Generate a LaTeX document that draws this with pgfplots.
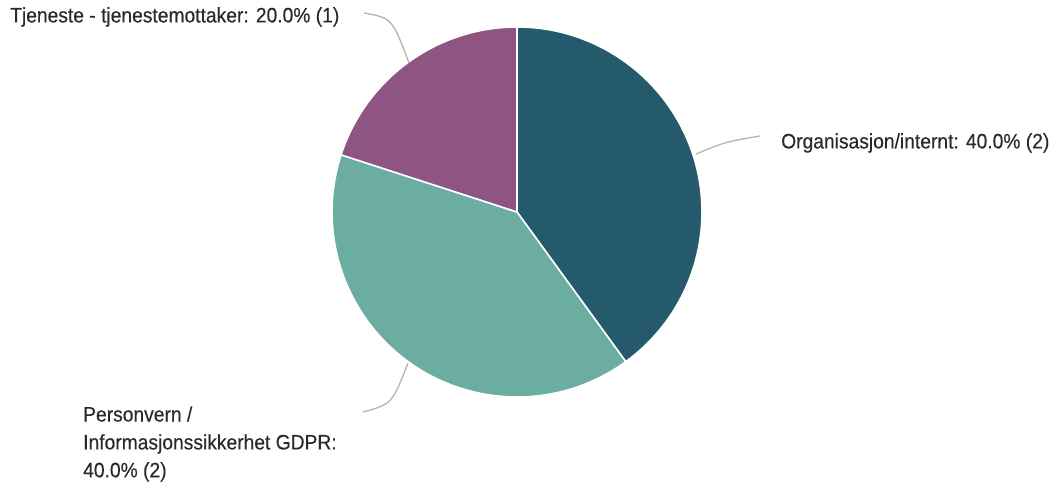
\documentclass[border=0pt]{standalone}
\usepackage{fontspec}
\setmainfont{Liberation Sans}[FakeStretch=0.92,FakeBold=0.4]
\usepackage{pgfplots}
\pgfplotsset{compat=1.18}
\usepackage{pgfplotstable}
\definecolor{orgc}{HTML}{255A6C}
\definecolor{perc}{HTML}{6BADA0}
\definecolor{tjec}{HTML}{8E5482}
\definecolor{txt}{HTML}{2A2A2A}
\definecolor{lead}{HTML}{B4B4B4}
\pgfplotstableread{
name value
Org 2
Pers 2
Tjen 1
}\piedata
\pgfplotstablegetelem{0}{value}\of\piedata \let\va\pgfplotsretval
\pgfplotstablegetelem{1}{value}\of\piedata \let\vb\pgfplotsretval
\pgfplotstablegetelem{2}{value}\of\piedata \let\vc\pgfplotsretval
\pgfmathsetmacro\tot{\va+\vb+\vc}
\pgfmathsetmacro\aA{90}
\pgfmathsetmacro\aB{\aA-360*\va/\tot}
\pgfmathsetmacro\aC{\aB-360*\vb/\tot}
\pgfmathsetmacro\aD{\aC-360*\vc/\tot}
\begin{document}
\begin{tikzpicture}
\useasboundingbox (0,0) rectangle (1059bp,486bp);
\begin{axis}[
  at={(0,0)}, anchor=south west,
  width=1059bp, height=486bp, scale only axis,
  xmin=0, xmax=1059, ymin=0, ymax=486,
  hide axis, clip=false]
\fill[orgc,draw=white,line width=1.6bp] (axis cs:517,274) -- ++(\aA:185bp) arc[start angle=\aA,end angle=\aB,radius=185bp] -- cycle;
\fill[perc,draw=white,line width=1.6bp] (axis cs:517,274) -- ++(\aB:185bp) arc[start angle=\aB,end angle=\aC,radius=185bp] -- cycle;
\fill[tjec,draw=white,line width=1.6bp] (axis cs:517,274) -- ++(\aC:185bp) arc[start angle=\aC,end angle=\aD,radius=185bp] -- cycle;
\draw[lead,line width=1.3bp] (axis cs:364,473) .. controls (axis cs:392,468) .. (axis cs:409,423);
\draw[lead,line width=1.3bp] (axis cs:696,332) .. controls (axis cs:725,344) .. (axis cs:760,350);
\draw[lead,line width=1.3bp] (axis cs:408,123) .. controls (axis cs:392,82) .. (axis cs:363,74);
\node[anchor=west,inner sep=0pt,text=txt,font=\fontsize{21}{28}\selectfont] at (axis cs:10,469) {Tjeneste - tjenestemottaker: 20.0\% (1)};
\node[anchor=west,inner sep=0pt,text=txt,font=\fontsize{21}{28}\selectfont] at (axis cs:781,343) {Organisasjon/internt: 40.0\% (2)};
\node[anchor=west,inner sep=0pt,text=txt,align=left,font=\fontsize{21}{28}\selectfont] at (axis cs:83,42) {Personvern /\\Informasjonssikkerhet GDPR:\\40.0\% (2)};
\end{axis}
\end{tikzpicture}
\end{document}
